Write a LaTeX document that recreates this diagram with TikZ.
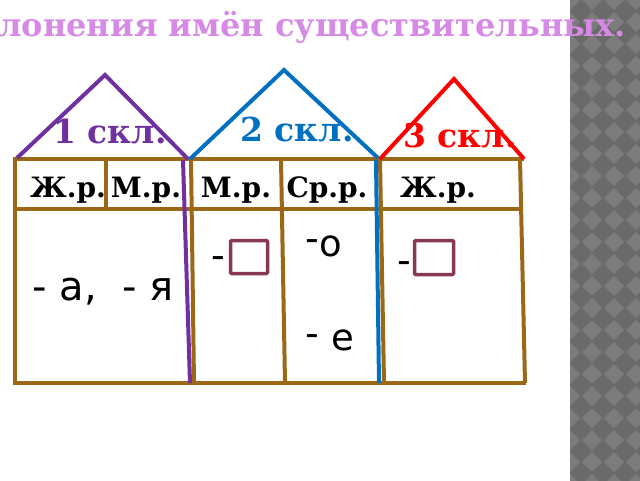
\documentclass[tikz,border=0pt]{standalone}
\usepackage{fontspec}
\setmainfont{DejaVu Serif}
\newfontfamily\endfont{DejaVu Sans}
\usetikzlibrary{positioning}
\definecolor{wallbrown}{RGB}{155,105,22}
\definecolor{roofpurple}{RGB}{112,48,160}
\definecolor{roofblue}{RGB}{0,112,192}
\definecolor{titlepink}{RGB}{214,138,230}
\definecolor{boxred}{RGB}{136,56,84}
\definecolor{stripdark}{RGB}{106,106,106}
\definecolor{striplight}{RGB}{124,124,124}
\tikzset{
  wall/.style={draw=wallbrown, line width=4pt},
  roof/.style={line width=4pt},
  decl/.style={font=\fontsize{33}{40}\bfseries\selectfont, inner sep=0pt, anchor=base},
  gender/.style={font=\fontsize{28}{34}\bfseries\selectfont, inner sep=0pt, anchor=base},
  ending/.style={font=\endfont\fontsize{40}{48}\selectfont, inner sep=0pt, anchor=base},
  hyph/.style={font=\endfont\fontsize{38}{44}\selectfont, inner sep=0pt, anchor=base},
  blank/.style={draw=boxred, line width=3.5pt, rounded corners=1pt, inner sep=0pt}
}
\begin{document}
\begin{tikzpicture}[x=1pt,y=-1pt]
   \useasboundingbox (0,0) rectangle (640,480);
   % checkered strip on the right
   \begin{scope}
      \clip (570,0) rectangle (640,480);
      \fill[stripdark] (570,-5) rectangle (645,485);
      \foreach \i in {0,...,4} \foreach \j in {0,...,22}
         \fill[striplight] (570+22*\i,22*\j) +(-10,0) -- +(0,-10) -- +(10,0) -- +(0,10) -- cycle;
   \end{scope}
   \node[font=\fontsize{32}{38}\bfseries\selectfont, text=titlepink, inner sep=0pt, anchor=base east] (title) at (626,36) {лонения имён существительных.};
   % walls
   \draw[wall] (15,157) -- (15,383) -- (526,383);
   \draw[wall] (15,159) -- (524,159);
   \draw[wall] (15,209) -- (520,209);
   \draw[wall] (106,159) -- (106,209);
   \draw[wall] (191,159) -- (194,383);
   \draw[wall] (281,159) -- (285,383);
   \draw[wall] (380,159) -- (384,383);
   \draw[wall] (520,159) -- (525,383);
   % roofs
   \coordinate (apex1) at (105,75);
   \coordinate (apex2) at (284,70);
   \coordinate (apex3) at (454,79);
   \draw[roof, roofpurple] (17,158) -- (apex1) -- (188,159);
   \draw[roof, roofpurple] (183,160) -- (190,383);
   \draw[roof, roofblue] (190,159) -- (apex2) -- (378,158);
   \draw[roof, roofblue] (376,160) -- (379,383);
   \draw[roof, red] (380,159) -- (apex3) -- (524,159);
   % labels
   \node[decl, text=roofpurple] (d1) at (110,143) {1 скл.};
   \node[decl, text=roofblue] (d2) at (297,141) {2 скл.};
   \node[decl, text=red] (d3) at (460,147) {3 скл.};
   \node[gender] (f1) at (68,197) {Ж.р.};
   \node[gender] (m1) at (146,197) {М.р.};
   \node[gender] (m2) at (236,197) {М.р.};
   \node[gender] (n2) at (327,197) {Ср.р.};
   \node[gender] (f3) at (438,197) {Ж.р.};
   % endings
   \node[ending] (aya) at (103,300) {- а,\ \ - я};
   \node[ending, font=\endfont\fontsize{37}{44}\selectfont] (oend) at (331,256) {о};
   \node[hyph] (ohyph) at (312,251) {-};
   \node[ending, font=\endfont\fontsize{37}{44}\selectfont] (eend) at (343,350) {е};
   \node[hyph] (ehyph) at (312,346) {-};
   \node[blank, minimum width=37pt, minimum height=33pt] (box2) at (249,257) {};
   \node[hyph] (hyph2) at (218,268) {-};
   \node[blank, minimum width=39pt, minimum height=34pt] (box3) at (434,257.5) {};
   \node[hyph] (hyph3) at (404,273) {-};
\end{tikzpicture}
\end{document}
